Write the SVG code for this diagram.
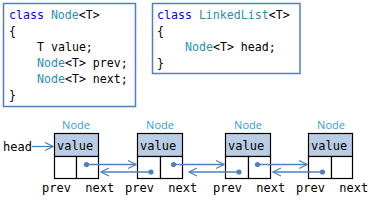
<svg xmlns="http://www.w3.org/2000/svg" width="370" height="200" viewBox="0 0 370 200">
<defs>
<style>
.code{font-family:"DejaVu Sans Mono","Liberation Mono",monospace;font-size:11.6px;fill:#000}
.kw{fill:#0000FF}
.ty{fill:#2B91AF}
.cbox{fill:#fff;stroke:#4F81BD;stroke-width:1.5}
.lbl{font-family:"Open Sans","Noto Sans",sans-serif;font-size:11px;fill:#31A0C8;text-anchor:middle}
.val{fill:#B9CDE5;stroke:#000;stroke-width:1.2}
.cell{fill:#fff;stroke:#000;stroke-width:1.2}
.mono{font-family:"DejaVu Sans Mono","Liberation Mono",monospace;font-size:12px;fill:#000}
.link{fill:none;stroke:#4F81BD;stroke-width:1.3}
.dot{fill:#4F81BD}
</style>
<marker id="chev" viewBox="0 0 10 10" refX="9" refY="5" markerWidth="10" markerHeight="10" markerUnits="userSpaceOnUse" orient="auto">
<path d="M1,1 L9,5 L1,9" fill="none" stroke="#4F81BD" stroke-width="1.2"/>
</marker>
</defs>
<rect width="370" height="200" fill="#fff"/>
<g id="node-class">
<rect class="cbox" x="3.5" y="3.5" width="132" height="103"/>
<text class="code" x="9" y="19"><tspan class="kw">class</tspan> <tspan class="ty">Node</tspan>&lt;T&gt;</text>
<text class="code" x="9" y="35">{</text>
<text class="code" x="37" y="51">T value;</text>
<text class="code" x="37" y="67"><tspan class="ty">Node</tspan>&lt;T&gt; prev;</text>
<text class="code" x="37" y="83"><tspan class="ty">Node</tspan>&lt;T&gt; next;</text>
<text class="code" x="9" y="99">}</text>
</g>
<g id="linkedlist-class">
<rect class="cbox" x="152.5" y="3.5" width="147.5" height="70"/>
<text class="code" x="157" y="19"><tspan class="kw">class</tspan> <tspan class="ty">LinkedList</tspan>&lt;T&gt;</text>
<text class="code" x="157" y="35">{</text>
<text class="code" x="185" y="51"><tspan class="ty">Node</tspan>&lt;T&gt; head;</text>
<text class="code" x="157" y="67">}</text>
</g>
<g id="head">
<text class="mono" x="3" y="150.5">head</text>
</g>
<g id="node1">
<text class="lbl" x="76" y="129">Node</text>
<rect class="val" x="54.5" y="133.5" width="44" height="23"/>
<rect class="cell" x="54.5" y="156.5" width="22" height="22"/>
<rect class="cell" x="76.5" y="156.5" width="22" height="22"/>
<text class="mono" x="57" y="150">value</text>
<text class="mono" x="42" y="192" xml:space="preserve">prev  next</text>
</g>
<g id="node2">
<text class="lbl" x="160" y="129">Node</text>
<rect class="val" x="137.5" y="133.5" width="45" height="23"/>
<rect class="cell" x="137.5" y="156.5" width="23" height="22"/>
<rect class="cell" x="160.5" y="156.5" width="22" height="22"/>
<text class="mono" x="140" y="150">value</text>
<text class="mono" x="125" y="192" xml:space="preserve">prev  next</text>
</g>
<g id="node3">
<text class="lbl" x="248" y="129">Node</text>
<rect class="val" x="225.5" y="133.5" width="45" height="23"/>
<rect class="cell" x="225.5" y="156.5" width="23" height="22"/>
<rect class="cell" x="248.5" y="156.5" width="22" height="22"/>
<text class="mono" x="228" y="150">value</text>
<text class="mono" x="213" y="192" xml:space="preserve">prev  next</text>
</g>
<g id="node4">
<text class="lbl" x="331" y="129">Node</text>
<rect class="val" x="308.5" y="133.5" width="44" height="23"/>
<rect class="cell" x="308.5" y="156.5" width="23" height="22"/>
<rect class="cell" x="331.5" y="156.5" width="21" height="22"/>
<text class="mono" x="311" y="150">value</text>
<text class="mono" x="296" y="192" xml:space="preserve">prev  next</text>
</g>
<g id="connectors">
<line class="link" x1="32" y1="146.5" x2="53" y2="146.5" marker-end="url(#chev)"/>
<circle class="dot" cx="86.5" cy="164.5" r="2.6"/>
<line class="link" x1="86.5" y1="164.5" x2="136" y2="164.5" marker-end="url(#chev)"/>
<circle class="dot" cx="151" cy="172" r="2.6"/>
<line class="link" x1="151" y1="172" x2="101" y2="172" marker-end="url(#chev)"/>
<circle class="dot" cx="173.5" cy="164.5" r="2.6"/>
<line class="link" x1="173.5" y1="164.5" x2="224" y2="164.5" marker-end="url(#chev)"/>
<circle class="dot" cx="239" cy="172" r="2.6"/>
<line class="link" x1="239" y1="172" x2="189" y2="172" marker-end="url(#chev)"/>
<circle class="dot" cx="257.5" cy="164.5" r="2.6"/>
<line class="link" x1="257.5" y1="164.5" x2="307" y2="164.5" marker-end="url(#chev)"/>
<circle class="dot" cx="322.5" cy="172" r="2.6"/>
<line class="link" x1="322.5" y1="172" x2="273" y2="172" marker-end="url(#chev)"/>
</g>
</svg>
